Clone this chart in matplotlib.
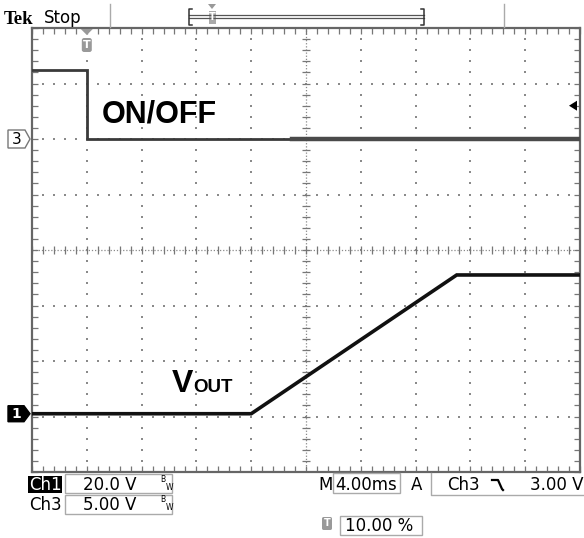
import matplotlib
matplotlib.use("Agg")
import matplotlib.pyplot as plt
import numpy as np
from matplotlib.patches import Polygon, Rectangle, FancyBboxPatch
from matplotlib.lines import Line2D

# ---------------- data ----------------
t_ch3 = [-4.0, 0.0, 0.0, 36.0]          # ms
v_ch3 = [6.2, 6.2, 0.0, 0.0]            # V  (ON/OFF)
t_ch3_noisy = [15.0, 36.0]
v_ch3_noisy = [0.0, 0.0]
t_ch1 = [-4.0, 12.0, 27.0, 36.0]        # ms
v_ch1 = [0.0, 0.0, 50.0, 50.0]          # V  (VOUT)
ch1_scale = 20.0       # V/div
ch3_scale = 5.0        # V/div
ch1_offset = -2.95     # div
ch3_offset = 2.0       # div
time_per_div = 4.0     # ms/div
trigger_time = 0.0
trigger_level = 3.0    # V on Ch3

W, H = 584, 538
fig = plt.figure(figsize=(W / 100, H / 100), dpi=100)
fig.patch.set_facecolor("white")


def P(x, y):
    return (x / W, 1 - y / H)


ax = fig.add_axes([32 / W, 1 - 472 / H, 548 / W, 444 / H])
x0, x1 = -4.0, -4.0 + 10 * time_per_div
ax.set_xlim(x0, x1)
ax.set_ylim(-4, 4)
ax.set_xticks([])
ax.set_yticks([])
ax.set_xticks(np.arange(x0, x1 + 0.01, time_per_div / 5), minor=True)
ax.set_yticks(np.arange(-4, 4.01, 0.2), minor=True)
ax.tick_params(which="minor", direction="in", length=4, width=0.9,
               color="#777777", top=True, right=True,
               labelbottom=False, labelleft=False)
for s in ax.spines.values():
    s.set_color("#666666")
    s.set_linewidth(1.6)

grid_col = "#8a8a8a"
# dotted graticule
ys = np.arange(-4, 4.01, 0.2)
xs = np.arange(x0, x1 + 0.01, time_per_div / 5)
for k in range(1, 10):
    if k == 5:
        continue
    xv = x0 + k * time_per_div
    ax.scatter([xv] * len(ys), ys, s=1.6, marker="s", color=grid_col,
               linewidths=0, zorder=1)
for yv in range(-3, 4):
    if yv == 0:
        continue
    ax.scatter(xs, [yv] * len(xs), s=1.6, marker="s", color=grid_col,
               linewidths=0, zorder=1)
# centre cross-hair
xc = x0 + 5 * time_per_div
ax.axhline(0, color=grid_col, lw=0.9, ls=(0, (1, 1.5)), zorder=1)
ax.axvline(xc, color=grid_col, lw=0.9, ls=(0, (1, 1.5)), zorder=1)
ax.plot(xs, [0] * len(xs), "|", ms=6, mew=0.9, color="#777777", zorder=1)
ax.plot([xc] * len(ys), ys, "_", ms=6, mew=0.9, color="#777777", zorder=1)

# traces
y3 = [ch3_offset + v / ch3_scale for v in v_ch3]
y3n = [ch3_offset + v / ch3_scale for v in v_ch3_noisy]
y1 = [ch1_offset + v / ch1_scale for v in v_ch1]
ax.plot(t_ch3, y3, color="#3a3a3a", lw=2.0, zorder=3, solid_joinstyle="miter")
ax.plot(t_ch3_noisy, y3n, color="#4a4a4a", lw=3.2, zorder=3)
ax.plot(t_ch1, y1, color="#111111", lw=2.6, zorder=4, solid_joinstyle="miter")

# labels in the screen
ax.text(1.1, 2.3, "ON/OFF", fontsize=22, fontweight="bold",
        family="Liberation Sans", va="baseline", ha="left", zorder=5)
ax.text(6.2, -2.56, "V", fontsize=23, fontweight="bold",
        family="Liberation Sans", va="baseline", ha="left", zorder=5)
ax.text(7.75, -2.56, "OUT", fontsize=13.5, fontweight="bold",
        family="Liberation Sans", va="baseline", ha="left", zorder=5)

# ---------------- decorations around the screen ----------------
fig.text(*P(4, 24), "Tek", fontsize=13.5, fontweight="bold",
         family="Liberation Serif", va="baseline", ha="left")
fig.text(*P(44, 23), "Stop", fontsize=12, family="DejaVu Sans",
         va="baseline", ha="left")
for xx in (110, 504):
    fig.add_artist(Line2D([xx / W, xx / W], [1 - 4 / H, 1 - 27 / H],
                          color="#aaaaaa", lw=1.0, transform=fig.transFigure))
# record-length bracket
brk_col = "#555555"
fig.add_artist(Line2D([P(189, 0)[0], P(424, 0)[0]], [P(0, 15)[1]] * 2,
                      color=brk_col, lw=0.9, transform=fig.transFigure))
fig.add_artist(Line2D([P(189, 0)[0], P(424, 0)[0]], [P(0, 18)[1]] * 2,
                      color=brk_col, lw=0.9, transform=fig.transFigure))
for xa, d in ((189, 3), (424, -3)):
    fig.add_artist(Line2D([P(xa + d, 0)[0], P(xa, 0)[0], P(xa, 0)[0], P(xa + d, 0)[0]],
                          [P(0, 9)[1], P(0, 9)[1], P(0, 25)[1], P(0, 25)[1]],
                          color="#333333", lw=1.1, transform=fig.transFigure))
fig.add_artist(Polygon([P(208, 4), P(216, 4), P(212, 9)], closed=True,
                       facecolor="#999999", edgecolor="none",
                       transform=fig.transFigure))
fig.add_artist(Rectangle(P(209, 24), 7 / W, 13 / H, facecolor="#aaaaaa",
                         edgecolor="none", transform=fig.transFigure))
fig.text(*P(212.5, 17), "T", fontsize=7, fontweight="bold", color="white",
         ha="center", va="center", family="DejaVu Sans")

# trigger position marker (top)
xt = 32 + (trigger_time - x0) / (x1 - x0) * 548
fig.add_artist(Polygon([P(xt - 6, 29), P(xt + 6, 29), P(xt, 35)], closed=True,
                       facecolor="#999999", edgecolor="none",
                       transform=fig.transFigure))
fig.add_artist(FancyBboxPatch(P(xt - 5, 52), 10 / W, 14 / H,
                              boxstyle="round,pad=0,rounding_size=0.004",
                              facecolor="#999999", edgecolor="none",
                              transform=fig.transFigure))
fig.text(*P(xt, 45), "T", fontsize=8, fontweight="bold", color="white",
         ha="center", va="center", family="DejaVu Sans")

# channel ground markers (left)
def y_pix(div):
    return 250 - div * 55.5

yc3 = y_pix(ch3_offset)
yc1 = y_pix(ch1_offset)
fig.add_artist(Polygon([P(8, yc3 - 9), P(25, yc3 - 9), P(30, yc3), P(25, yc3 + 9), P(8, yc3 + 9)],
                       closed=True, facecolor="white", edgecolor="#777777", lw=1.0,
                       transform=fig.transFigure))
fig.text(*P(16.5, yc3 + 0.5), "3", fontsize=11, color="black", ha="center",
         va="center", family="DejaVu Sans")
fig.add_artist(Polygon([P(8, yc1 - 8), P(24, yc1 - 8), P(30, yc1), P(24, yc1 + 8), P(8, yc1 + 8)],
                       closed=True, facecolor="black", edgecolor="black", lw=1.0,
                       transform=fig.transFigure))
fig.text(*P(16.5, yc1 + 0.5), "1", fontsize=10, fontweight="bold", color="white",
         ha="center", va="center", family="DejaVu Sans")

# trigger level marker (right)
ytl = y_pix(ch3_offset + trigger_level / ch3_scale)
fig.add_artist(Polygon([P(569, ytl), P(577, ytl - 5), P(577, ytl + 5)], closed=True,
                       facecolor="black", edgecolor="none", transform=fig.transFigure))

# ---------------- bottom readouts ----------------
fs = 12
fig.add_artist(Rectangle(P(28, 493), 34 / W, 17 / H, facecolor="black",
                         edgecolor="none", transform=fig.transFigure))
fig.text(*P(45, 485), "Ch1", fontsize=fs, color="white", ha="center",
         va="center", family="DejaVu Sans")
fig.text(*P(45, 505), "Ch3", fontsize=fs, color="black", ha="center",
         va="center", family="DejaVu Sans")
for ytop in (474, 495):
    fig.add_artist(Rectangle(P(65, ytop + 19), 107 / W, 19 / H, facecolor="white",
                             edgecolor="#aaaaaa", lw=1.0, transform=fig.transFigure))
fig.text(*P(110, 485), f"{ch1_scale:.1f} V", fontsize=fs, ha="center",
         va="center", family="DejaVu Sans")
fig.text(*P(110, 505), f"{ch3_scale:.2f} V", fontsize=fs, ha="center",
         va="center", family="DejaVu Sans")
for yb in (479, 500):
    fig.text(*P(163, yb), "B", fontsize=5.5, ha="center", va="center",
             family="DejaVu Sans")
    fig.text(*P(169.5, yb + 8), "W", fontsize=5.5, ha="center", va="center",
             family="DejaVu Sans")

fig.text(*P(326, 485), "M", fontsize=fs, ha="center", va="center",
         family="DejaVu Sans")
fig.add_artist(Rectangle(P(333, 493), 67 / W, 20 / H, facecolor="white",
                         edgecolor="#aaaaaa", lw=1.0, transform=fig.transFigure))
fig.text(*P(366.5, 485), f"{time_per_div:.2f}ms", fontsize=fs, ha="center",
         va="center", family="DejaVu Sans")
fig.text(*P(417, 485), "A", fontsize=fs, ha="center", va="center",
         family="DejaVu Sans")
fig.add_artist(Line2D([P(431, 0)[0], P(431, 0)[0], P(584, 0)[0]],
                      [P(0, 473)[1], P(0, 495)[1], P(0, 495)[1]],
                      color="#aaaaaa", lw=1.0, transform=fig.transFigure))
fig.text(*P(463, 485), "Ch3", fontsize=fs, ha="center", va="center",
         family="DejaVu Sans")
fig.add_artist(Line2D([P(492, 0)[0], P(498, 0)[0], P(502, 0)[0], P(503, 0)[0]],
                      [P(0, 480)[1], P(0, 480)[1], P(0, 489)[1], P(0, 490)[1]],
                      color="black", lw=1.6, transform=fig.transFigure))
fig.text(*P(583, 485), f"{trigger_level:.2f} V", fontsize=fs, ha="right",
         va="center", family="DejaVu Sans")

fig.add_artist(FancyBboxPatch(P(322, 530), 10 / W, 13 / H,
                              boxstyle="round,pad=0,rounding_size=0.003",
                              facecolor="#999999", edgecolor="none",
                              transform=fig.transFigure))
fig.text(*P(327, 523.5), "T", fontsize=7, fontweight="bold", color="white",
         ha="center", va="center", family="DejaVu Sans")
fig.add_artist(Rectangle(P(340, 535), 82 / W, 19 / H, facecolor="white",
                         edgecolor="#aaaaaa", lw=1.0, transform=fig.transFigure))
fig.text(*P(345, 526), "10.00 %", fontsize=fs, ha="left", va="center",
         family="DejaVu Sans")

fig.savefig("out.png", dpi=100, facecolor="white")
